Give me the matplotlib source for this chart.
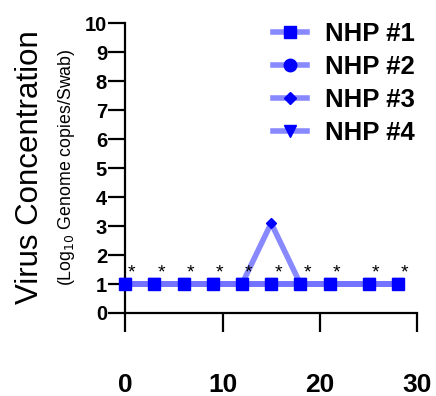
import numpy as np
import matplotlib
matplotlib.use("Agg")
from matplotlib import pyplot as plt

plt.rcParams['font.family'] = ['Liberation Sans', 'DejaVu Sans']

days = [0, 3, 6, 9, 12, 15, 18, 21, 25, 28]
nhp1 = [1, 1, 1, 1, 1, 1, 1, 1, 1, 1]
nhp2 = [1, 1, 1, 1, 1, 1, 1, 1, 1, 1]
nhp3 = [1, 1, 1, 1, 1, 3.1, 1, 1, 1, 1]
nhp4 = [1, 1, 1, 1, 1, 1, 1, 1, 1, 1]
labels = ["NHP #1", "NHP #2", "NHP #3", "NHP #4"]
markers = ["s", "o", "D", "v"]
msizes = [8, 8, 5, 8]
star_y = 1.38

fig = plt.figure(figsize=(4.36, 3.96), dpi=100)
ax = fig.add_axes([0.287, 0.2096, 0.67, 0.732])

line_col = (0.45, 0.45, 1.0, 0.85)
mark_col = "#0000ff"

# draw in reverse so NHP #1 squares sit on top
series = [nhp1, nhp2, nhp3, nhp4]
handles = [None] * 4
for i in reversed(range(4)):
    ax.plot(days, series[i], color=line_col, lw=4, zorder=2 + (4 - i) * 0.1, clip_on=False)
    ax.plot(days, series[i], ls="none", marker=markers[i], ms=msizes[i],
            color=mark_col, zorder=3 + (4 - i) * 0.1, clip_on=False)
    handles[i], = ax.plot([], [], color=line_col, lw=4, marker=markers[i],
                          ms=msizes[i] + 1, mfc=mark_col, mec=mark_col, label=labels[i])

for d in days:
    ax.text(d + 0.7, star_y, "*", ha="center", va="center", fontsize=14)

ax.set_xlim(0, 30)
ax.set_ylim(0, 10)
ax.set_xticks([0, 10, 20, 30])
ax.set_yticks(range(0, 11))
ax.spines["top"].set_visible(False)
ax.spines["right"].set_visible(False)
ax.spines["left"].set_linewidth(1.6)
ax.spines["bottom"].set_linewidth(1.6)
ax.tick_params(axis="y", length=12, width=1.6, labelsize=14.5, pad=1)
ax.tick_params(axis="x", length=14, width=1.6, labelsize=19, pad=29)
for t in ax.get_xticklabels() + ax.get_yticklabels():
    t.set_fontweight("bold")

fig.text(0.069, 0.578, "Virus Concentration", rotation=90, ha="center", va="center",
         fontsize=22.5)
fig.text(0.152, 0.578, "(Log$_{10}$ Genome copies/Swab)", rotation=90, ha="center",
         va="center", fontsize=12.8)

leg = ax.legend(handles=handles, loc="upper right", bbox_to_anchor=(1.07, 1.085),
                frameon=False, handlelength=1.3, handletextpad=0.7, labelspacing=0.35,
                prop={"size": 18.5, "weight": "bold"})

fig.savefig("out.png", dpi=100)
